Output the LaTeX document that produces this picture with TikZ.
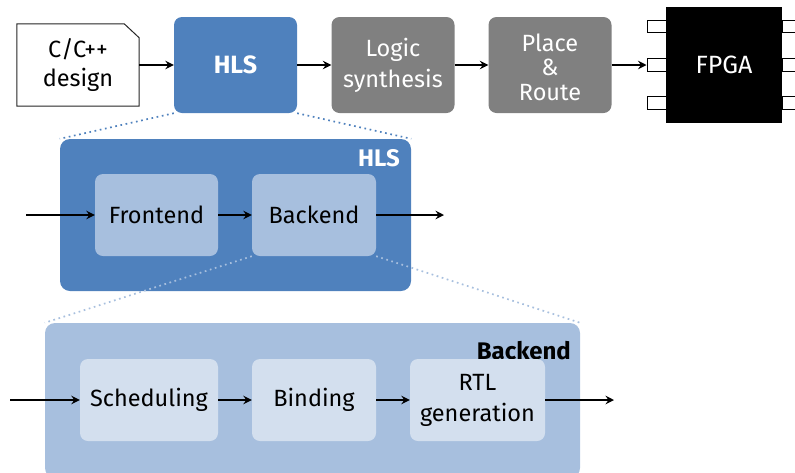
\documentclass[tikz,border=0pt]{standalone}
\usepackage{fontspec}
\setmainfont{Fira Sans}
\usetikzlibrary{arrows.meta}
\definecolor{hlsblue}{HTML}{4F81BD}
\definecolor{lightblue}{HTML}{A7BFDE}
\definecolor{paleblue}{HTML}{D3DFEE}
\definecolor{stagegray}{HTML}{808080}
\tikzset{
  lines/.style={font=\fontsize{23.5}{#1}\selectfont},
  txt/.style={lines=28, align=center, inner sep=0pt},
  stage/.style={txt, rounded corners=8pt, minimum width=123pt, minimum height=96pt},
  bluestage/.style={stage, fill=hlsblue, text=white, font=\fontsize{25}{28}\selectfont\bfseries},
  graystage/.style={stage, fill=stagegray, text=white},
  inner/.style={txt, rounded corners=8pt, minimum height=82pt},
  container/.style={rounded corners=10pt, inner sep=0pt},
  boldlabel/.style={inner sep=0pt, font=\fontsize{24}{28}\selectfont\bfseries, anchor=base east},
  pin/.style={draw=black, fill=white, line width=1pt, minimum width=19pt, minimum height=12.5pt, inner sep=0pt},
  flow/.style={line width=1.4pt, -{Stealth[length=8.5pt,width=8.5pt,inset=3pt]}},
  zoomline/.style={line width=1.7pt, dash pattern=on 1.7pt off 3.6pt},
}
\begin{document}
\begin{tikzpicture}[x=1pt,y=-1pt]
\useasboundingbox (0,0) rectangle (795,472);
\clip (0,0) rectangle (795,472);

% ---------- top row ----------
\node[txt, minimum width=122pt, minimum height=82pt] (src) at (78,65) {};
\draw[line width=1pt, draw=black!85, fill=white]
  (src.north west) -- ([xshift=-15pt]src.north east) -- ([yshift=-14pt]src.north east)
  -- (src.south east) -- (src.south west) -- cycle;
\node[txt, lines=29] (srctext) at (src.center) {C/C++\\design};

\node[bluestage] (hls) at (235.5,65) {HLS};
\node[graystage, lines=31] (logic) at (393,65) {Logic\\synthesis};
\node[graystage] (pr) at (550,65) {};
\node[txt, lines=24.5, text=white] (prtext) at (550,67) {Place\\\&\\Route};

\node[pin] (pl1) at (656.5,26.5) {};
\node[pin] (pl2) at (656.5,65) {};
\node[pin] (pl3) at (656.5,103) {};
\node[pin] (pr1) at (791.5,26.5) {};
\node[pin] (pr2) at (791.5,65) {};
\node[pin] (pr3) at (791.5,103) {};
\node[txt, fill=black, text=white, minimum width=116pt, minimum height=116pt, font=\fontsize{25}{28}\selectfont] (fpga) at (724,65) {FPGA};

\draw[flow] (src) -- (hls);
\draw[flow] (hls) -- (logic);
\draw[flow] (logic) -- (pr);
\draw[flow] (pr) -- (pl2);

% ---------- HLS detail ----------
\node[container, fill=hlsblue, minimum width=351pt, minimum height=152pt] (hlsbox) at (235.5,215) {};
\node[boldlabel, text=white] (hlslabel) at (400,166) {HLS};
\node[inner, fill=lightblue, minimum width=123pt] (front) at (156.5,215) {Frontend};
\node[inner, fill=lightblue, minimum width=124pt] (back) at (314,215) {Backend};
\coordinate (hin) at (26,215);
\coordinate (hout) at (444,215);
\draw[flow] (hin) -- (front);
\draw[flow] (front) -- (back);
\draw[flow] (back) -- (hout);

\draw[zoomline, draw=hlsblue] (hls.south west) -- (hlsbox.north west);
\draw[zoomline, draw=hlsblue] (hls.south east) -- (hlsbox.north east);

% ---------- Backend detail ----------
\node[container, fill=lightblue, minimum width=535pt, minimum height=155pt] (backbox) at (312.5,400.5) {};
\node[boldlabel, text=black] (backlabel) at (571,359) {Backend};
\node[inner, fill=paleblue, minimum width=138pt] (sched) at (149,400) {Scheduling};
\node[inner, fill=paleblue, minimum width=124pt] (bind) at (314,400) {Binding};
\node[inner, fill=paleblue, minimum width=135pt, lines=31] (rtl) at (477.5,400) {RTL\\generation};
\coordinate (bin) at (10,400);
\coordinate (bout) at (614,400);
\draw[flow] (bin) -- (sched);
\draw[flow] (sched) -- (bind);
\draw[flow] (bind) -- (rtl);
\draw[flow] (rtl) -- (bout);

\draw[zoomline, draw=lightblue] (back.south west) -- (backbox.north west);
\draw[zoomline, draw=lightblue] (back.south east) -- (backbox.north east);
\end{tikzpicture}
\end{document}
